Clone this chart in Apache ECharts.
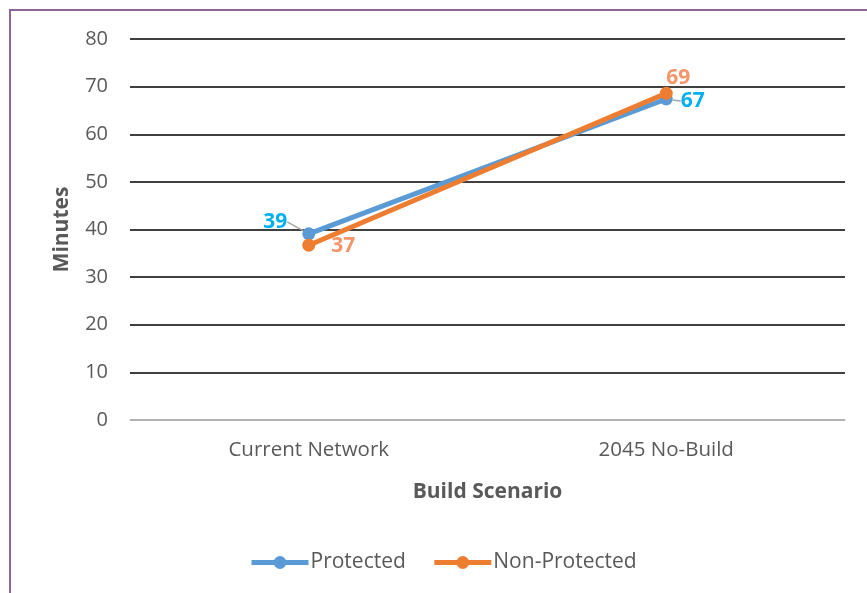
<!DOCTYPE html>
<html>
<head>
<meta charset="utf-8">
<script src="https://cdn.jsdelivr.net/npm/echarts@6/dist/echarts.min.js"></script>
<style>
  html, body { margin: 0; padding: 0; background: #fff; }
  #chart { position: absolute; left: 0; top: 0; width: 867px; height: 593px; }
  #frame { position: absolute; left: 9px; top: 9px; width: 880px; height: 600px;
           border-left: 2px solid #8C6699; border-top: 2px solid #8C6699; pointer-events: none; }
</style>
</head>
<body>
<div id="chart"></div>
<div id="frame"></div>
<script>
// Travel time by build scenario
const categories = ['Current Network', '2045 No-Build'];
const protectedMinutes = [39.1, 67.4];
const nonProtectedMinutes = [36.7, 68.6];
const yTicks = { min: 0, max: 80, interval: 10 };

const font = '"Open Sans", sans-serif';
const chart = echarts.init(document.getElementById('chart'));

// label offsets per point: [dx, dy]
const protectedLabelShift = [[-10, -12], [3, 2]];
const nonProtectedLabelShift = [[11, 1], [12, 7]];

chart.setOption({
  animation: false,
  textStyle: { fontFamily: font },
  grid: { left: 130, right: 22, top: 39, bottom: 173 },
  legend: {
    top: 547,
    left: 244,
    itemWidth: 57,
    itemHeight: 16,
    itemGap: 26,
    lineStyle: { width: 5 },
    textStyle: { fontSize: 21, color: '#595959', fontFamily: font, padding: [0, 0, 0, -3] },
    data: ['Protected', 'Non-Protected']
  },
  xAxis: {
    type: 'category',
    data: categories,
    name: 'Build Scenario',
    nameLocation: 'middle',
    nameGap: 62,
    nameTextStyle: { fontSize: 21, fontWeight: 'bold', color: '#595959' },
    axisLine: { show: true, lineStyle: { color: '#D9D9D9', width: 1.5 } },
    axisTick: { show: false },
    axisLabel: { fontSize: 20.5, color: '#595959', margin: 20 }
  },
  yAxis: {
    type: 'value',
    min: yTicks.min,
    max: yTicks.max,
    interval: yTicks.interval,
    name: 'Minutes',
    nameLocation: 'middle',
    nameGap: 57,
    nameRotate: 90,
    nameTextStyle: { fontSize: 21, fontWeight: 'bold', color: '#595959' },
    axisLine: { show: false },
    axisTick: { show: false },
    axisLabel: { fontSize: 20, color: '#595959', margin: 22 },
    splitLine: { lineStyle: { color: '#000', width: 1.5 } }
  },
  series: [
    {
      name: 'Protected',
      type: 'line',
      data: protectedMinutes,
      color: '#5B9BD5',
      lineStyle: { width: 5, color: '#5B9BD5' },
      symbol: 'circle',
      symbolSize: 13,
      itemStyle: { color: '#5B9BD5' },
      z: 2,
      label: {
        show: true,
        fontSize: 21,
        fontWeight: 'bold',
        color: '#00B0F0',
        formatter: p => Math.round(p.value),
        position: 'left'
      },
      labelLayout: function (params) {
        const s = protectedLabelShift[params.dataIndex];
        return { dx: s[0], dy: s[1] };
      },
      labelLine: { show: true, lineStyle: { color: '#A6A6A6', width: 1.5 } }
    },
    {
      name: 'Non-Protected',
      type: 'line',
      data: nonProtectedMinutes,
      color: '#ED7D31',
      lineStyle: { width: 5, color: '#ED7D31' },
      symbol: 'circle',
      symbolSize: 13,
      itemStyle: { color: '#ED7D31' },
      z: 3,
      label: {
        show: true,
        fontSize: 21,
        fontWeight: 'bold',
        color: '#F4956A',
        formatter: p => Math.round(p.value),
        position: 'right'
      },
      labelLayout: function (params) {
        const s = nonProtectedLabelShift[params.dataIndex];
        return { dx: s[0], dy: s[1] };
      }
    }
  ]
});
// the second point of each series carries its label on a different side
chart.setOption({
  series: [
    { data: [protectedMinutes[0], { value: protectedMinutes[1], label: { position: 'right' } }] },
    { data: [nonProtectedMinutes[0], { value: nonProtectedMinutes[1], label: { position: 'top' } }] }
  ]
});
</script>
</body>
</html>
